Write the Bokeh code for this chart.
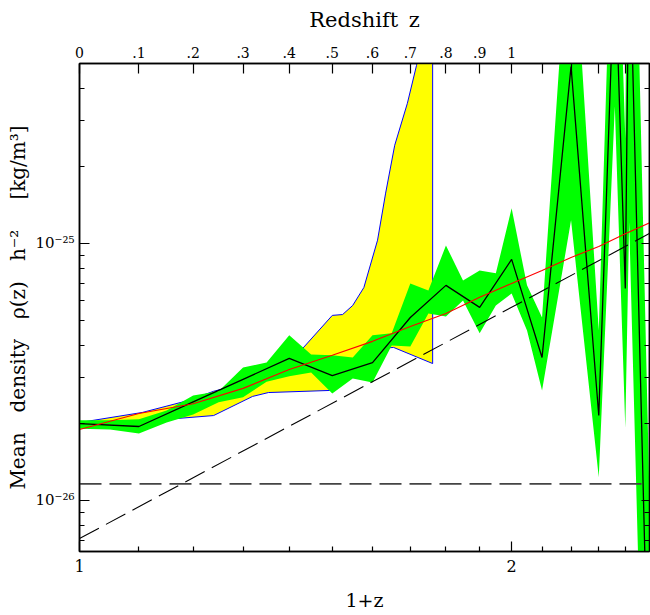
from bokeh.plotting import figure
from bokeh.models import (LogAxis, FixedTicker, CustomJSTickFormatter, Range1d)
from bokeh.embed import file_html
from bokeh.resources import INLINE

# ---------------- data (x = 1+z, rho in kg/m^3 h^-2) ----------------
black_x = [1.0, 1.1, 1.2, 1.3, 1.4, 1.5, 1.6, 1.7, 1.8, 1.9, 2.0, 2.1, 2.2,
           2.3, 2.36, 2.4, 2.415, 2.5]
black_rho = [1.99e-26, 1.94e-26, 2.42e-26, 2.96e-26, 3.57e-26, 3.06e-26,
             3.44e-26, 5.15e-26, 6.87e-26, 5.64e-26, 8.67e-26, 3.60e-26,
             4.88e-25, 2.14e-26, 1.31e-24, 6.68e-26, 1.77e-24, 7.3e-28]

green_x = [1.0, 1.05, 1.1, 1.15, 1.2, 1.25, 1.3, 1.35, 1.4, 1.45, 1.5, 1.55,
           1.6, 1.65, 1.7, 1.75, 1.8, 1.85, 1.9, 1.95, 2.0, 2.05, 2.1, 2.2,
           2.3, 2.36, 2.4, 2.415, 2.5]
green_hi = [2.05e-26, 2.05e-26, 2.07e-26, 2.24e-26, 2.56e-26, 2.66e-26,
            3.29e-26, 3.44e-26, 4.39e-26, 3.70e-26, 3.67e-26, 3.60e-26,
            4.39e-26, 4.47e-26, 6.99e-26, 6.56e-26, 9.82e-26, 7.18e-26,
            7.85e-26, 7.65e-26, 1.37e-25, 6.87e-26, 5.15e-26, 2.36e-24,
            4.59e-26, 5.02e-24, 2.56e-25, 2.61e-23, 6.28e-27]
green_lo = [1.90e-26, 1.89e-26, 1.82e-26, 2.01e-26, 2.16e-26, 2.41e-26,
            2.52e-26, 2.90e-26, 3.04e-26, 3.15e-26, 2.61e-26, 2.98e-26,
            2.88e-26, 4.01e-26, 3.97e-26, 5.34e-26, 5.20e-26, 6.00e-26,
            4.47e-26, 5.74e-26, 6.39e-26, 4.59e-26, 2.68e-26, 1.23e-25,
            1.23e-26, 3.41e-25, 1.92e-26, 1.21e-25, 8.5e-29]

yellow_hi_x = [1.0, 1.106, 1.191, 1.240, 1.352, 1.426, 1.500, 1.525, 1.550,
               1.578, 1.613, 1.634, 1.658, 1.692, 1.717, 1.762]
yellow_hi = [2.01e-26, 2.20e-26, 2.45e-26, 2.66e-26, 3.01e-26, 3.83e-26,
             5.25e-26, 5.29e-26, 5.74e-26, 6.74e-26, 1.03e-25, 1.57e-25,
             2.41e-25, 3.51e-25, 4.93e-25, 9.0e-25]
yellow_lo_x = [1.0, 1.103, 1.240, 1.320, 1.354, 1.496, 1.532, 1.550, 1.583,
               1.655, 1.762]
yellow_lo = [1.99e-26, 2.03e-26, 2.14e-26, 2.54e-26, 2.63e-26, 2.68e-26,
             3.15e-26, 3.47e-26, 3.87e-26, 3.94e-26, 3.41e-26]

red_x = [1.0, 1.1, 1.2, 1.3, 1.4, 1.5, 1.6, 1.7, 1.8, 1.9, 2.0, 2.1, 2.2,
         2.3, 2.4, 2.5]
red_rho = [1.89e-26, 2.18e-26, 2.38e-26, 2.73e-26, 3.23e-26, 3.67e-26,
           4.16e-26, 4.75e-26, 5.34e-26, 6.17e-26, 6.99e-26, 7.85e-26,
           8.82e-26, 9.73e-26, 1.09e-25, 1.21e-25]

flat_x = [1.0, 2.5]
flat_rho = [1.16e-26, 1.16e-26]
slope_x = [1.0, 2.5]
slope_rho = [7.11e-27, 1.10e-25]

# ---------------- ticks ----------------
x_major = [1.0, 2.0]
x_major_labels = ["1", "2"]
x_minor = [1.1, 1.2, 1.3, 1.4, 1.5, 1.6, 1.7, 1.8, 1.9, 2.1, 2.2, 2.3, 2.4]
top_ticks = [1.0, 1.1, 1.2, 1.3, 1.4, 1.5, 1.6, 1.7, 1.8, 1.9, 2.0,
             2.1, 2.2, 2.3, 2.4]
top_labels = ["0", ".1", ".2", ".3", ".4", ".5", ".6", ".7", ".8", ".9", "1",
              "", "", "", ""]
y_major = [1e-26, 1e-25]
y_major_labels = ["10\u207b\u00b2\u2076", "10\u207b\u00b2\u2075"]
y_minor = [7e-27, 8e-27, 9e-27, 2e-26, 3e-26, 4e-26, 5e-26, 6e-26, 7e-26,
           8e-26, 9e-26, 2e-25, 3e-25, 4e-25]
right_labels = ["", ""]

FONT = "DejaVu Serif"

p = figure(width=650, height=615, x_axis_type="log", y_axis_type="log",
           x_range=Range1d(1.0, 2.495), y_range=Range1d(6.33e-27, 5.015e-25),
           min_border_left=79, min_border_right=1, min_border_top=63,
           min_border_bottom=64, toolbar_location=None, output_backend="svg",
           background_fill_color="white", border_fill_color="white")
p.xgrid.visible = False
p.ygrid.visible = False
p.outline_line_color = "black"
p.outline_line_width = 1.5

lookup_code = """
let best = 0; let bd = Infinity;
for (let i = 0; i < vals.length; i++) {
  const d = Math.abs(Math.log(vals[i]) - Math.log(tick));
  if (d < bd) { bd = d; best = i; }
}
return labels[best];
"""


def style(ax):
    ax.axis_line_color = "black"
    ax.axis_line_width = 1.5
    ax.major_tick_in = 10
    ax.major_tick_out = 0
    ax.minor_tick_in = 5
    ax.minor_tick_out = 0
    ax.major_tick_line_color = "black"
    ax.minor_tick_line_color = "black"
    ax.major_tick_line_width = 1.2
    ax.minor_tick_line_width = 1.2
    ax.major_label_text_font = FONT
    ax.major_label_text_color = "black"
    ax.axis_label_text_font = FONT
    ax.axis_label_text_font_style = "normal"
    ax.axis_label_text_color = "black"


# bottom axis
xb = p.xaxis[0]
xb.ticker = FixedTicker(ticks=x_major, minor_ticks=x_minor)
xb.formatter = CustomJSTickFormatter(args=dict(vals=x_major, labels=x_major_labels),
                                     code=lookup_code)
style(xb)
xb.major_label_text_font_size = "16px"
xb.major_label_standoff = 8
xb.axis_label = "1+z"
xb.axis_label_text_font_size = "19px"
xb.axis_label_standoff = 14

# left axis
yl = p.yaxis[0]
yl.ticker = FixedTicker(ticks=y_major, minor_ticks=y_minor)
yl.formatter = CustomJSTickFormatter(args=dict(vals=y_major, labels=y_major_labels),
                                     code=lookup_code)
style(yl)
yl.major_label_text_font_size = "15px"
yl.major_label_standoff = 5
yl.axis_label = ("Mean\u2002\u2002density\u2002\u2002\u03c1(z)\u2002\u2002"
                 "h\u207b\u00b2\u2003\u2002[kg/m\u00b3]")
yl.axis_label_text_font_size = "20px"
yl.axis_label_standoff = 2

# top axis (redshift)
xt = LogAxis(ticker=FixedTicker(ticks=top_ticks, minor_ticks=[]),
             formatter=CustomJSTickFormatter(args=dict(vals=top_ticks, labels=top_labels),
                                             code=lookup_code))
style(xt)
xt.major_label_text_font_size = "14px"
xt.major_label_standoff = 6
xt.axis_label = "Redshift\u2002z"
xt.axis_label_text_font_size = "21px"
xt.axis_label_standoff = 12
p.add_layout(xt, "above")

# right axis (ticks only)
yr = LogAxis(ticker=FixedTicker(ticks=y_major, minor_ticks=y_minor),
             formatter=CustomJSTickFormatter(args=dict(vals=y_major, labels=right_labels),
                                             code=lookup_code))
style(yr)
yr.major_tick_in = 8
yr.minor_tick_in = 5
yr.major_label_standoff = 0
p.add_layout(yr, "right")

# ---------------- glyphs ----------------
# yellow band with blue outline
yx = yellow_hi_x + yellow_lo_x[::-1]
yy = yellow_hi + yellow_lo[::-1]
p.patch(yx, yy, fill_color="#ffff00", line_color="#0000ff", line_width=1)

# green band
gx = green_x + green_x[::-1]
gy = green_hi + green_lo[::-1]
p.patch(gx, gy, fill_color="#00ff00", line_color=None)

# mean density
p.line(black_x, black_rho, line_color="black", line_width=1.3)

# model curve
p.line(red_x, red_rho, line_color="#ff0000", line_width=1.1)

# dashed reference lines
p.line(flat_x, flat_rho, line_color="#444444", line_width=1.6, line_dash="22 8")
p.line(slope_x, slope_rho, line_color="black", line_width=1.1, line_dash="22 8")

open("out.html", "w").write(file_html(p, INLINE))
